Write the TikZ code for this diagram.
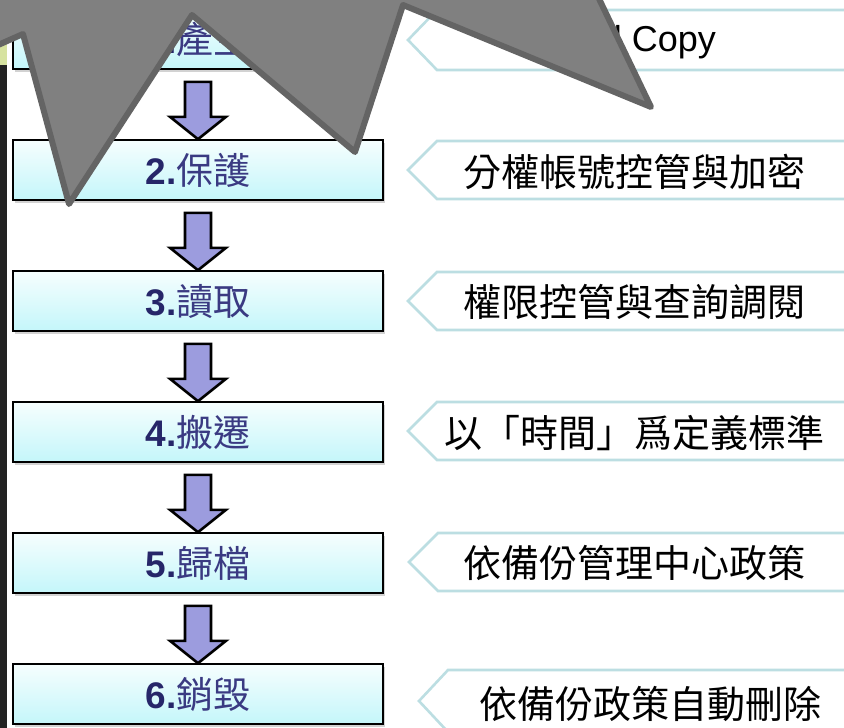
\documentclass[tikz,border=0pt]{standalone}
\usepackage{fontspec}
\setmainfont{Liberation Sans}
\newfontfamily\cjk{Noto Sans CJK TC}
\usetikzlibrary{calc,shadows}
\definecolor{navy}{RGB}{38,38,105}
\definecolor{navylight}{RGB}{58,58,130}
\definecolor{boxtop}{RGB}{246,254,254}
\definecolor{boxbot}{RGB}{196,246,250}
\definecolor{calloutline}{RGB}{188,222,226}
\definecolor{arrowfill}{RGB}{156,156,222}
\definecolor{polyfill}{RGB}{128,128,128}
\definecolor{polyline}{RGB}{100,100,100}
\definecolor{barcol}{RGB}{34,34,34}
\definecolor{stripcol}{RGB}{214,226,160}
\begin{document}
\begin{tikzpicture}[x=1pt,y=-1pt,
  stepbox/.style={draw=black, line width=1.6pt, minimum width=370pt, minimum height=60pt,
    inner sep=0pt, top color=boxtop, bottom color=boxbot,
    drop shadow={shadow xshift=2pt, shadow yshift=-3pt, opacity=0.35, fill=gray}},
  steptext/.style={font=\fontsize{37}{37}\selectfont\bfseries, text=navy},
  blockarrow/.style={draw=black, line width=2.6pt, fill=arrowfill, line join=miter},
  callout/.style={draw=calloutline, line width=2.6pt, fill=white, line join=miter},
  callouttext/.style={font=\cjk\fontsize{38}{38}\selectfont, text=black, inner sep=0pt},
  overlay poly/.style={fill=polyfill, draw=polyline, line width=6pt, line join=round}]
\useasboundingbox (0,0) rectangle (844,728);
\clip (0,0) rectangle (844,728);
\fill[white] (0,0) rectangle (844,728);

% left edge
\fill[stripcol] (0,44) rectangle (7,65);
\fill[barcol] (0,65) rectangle (7,728);

% step boxes
\newcommand{\cjkstep}[1]{{\cjk\fontsize{37}{37}\selectfont\mdseries\color{navylight}#1}}
\node[stepbox] (b1) at (198,39)  {\tikz[baseline]\node[steptext,inner sep=0pt,anchor=base]{1.\cjkstep{產生}};};
\node[stepbox] (b2) at (198,170) {\tikz[baseline]\node[steptext,inner sep=0pt,anchor=base]{2.\cjkstep{保護}};};
\node[stepbox] (b3) at (198,301) {\tikz[baseline]\node[steptext,inner sep=0pt,anchor=base]{3.\cjkstep{讀取}};};
\node[stepbox] (b4) at (198,432) {\tikz[baseline]\node[steptext,inner sep=0pt,anchor=base]{4.\cjkstep{搬遷}};};
\node[stepbox] (b5) at (198,563) {\tikz[baseline]\node[steptext,inner sep=0pt,anchor=base]{5.\cjkstep{歸檔}};};
\node[stepbox] (b6) at (198,694) {\tikz[baseline]\node[steptext,inner sep=0pt,anchor=base]{6.\cjkstep{銷毀}};};

% block arrows between boxes
\foreach \a/\b in {b1/b2,b2/b3,b3/b4,b4/b5,b5/b6}{
  \draw[blockarrow]
    ($(\a.south)+(-13,12)$) -- ($(\a.south)+(13,12)$) -- ($(\a.south)+(13,47)$)
    -- ($(\a.south)+(28,47)$) -- (\b.north) -- ($(\a.south)+(-28,47)$)
    -- ($(\a.south)+(-13,47)$) -- cycle;
}

% callouts
\foreach \top/\bot/\tip/\cor in {10/70/408/437, 141/199/408/437, 272/330/408/437, 402/460/408/437, 533/591/409/438, 670/732/419/448}{
  \draw[callout] (850,\top) -- (\cor,\top) -- (\tip,{(\top+\bot)/2}) -- (\cor,\bot) -- (850,\bot);
}
\node[font=\fontsize{36}{36}\selectfont, text=black, inner sep=0pt] (c1) at (640,42) {Full Copy};
\node[callouttext] (c2) at (634,172) {分權帳號控管與加密};
\node[callouttext] (c3) at (634,302) {權限控管與查詢調閱};
\node[callouttext] (c4) at (634,433) {以「時間」爲定義標準};
\node[callouttext] (c5) at (634,563) {依備份管理中心政策};
\node[callouttext] (c6) at (650,704) {依備份政策自動刪除};

% overlay polygon
\draw[overlay poly] (-20,53) -- (23,34) -- (69,204) -- (192,15) -- (355,152)
  -- (403,5) -- (651,107) -- (590,-20) -- (-20,-20) -- cycle;
\end{tikzpicture}
\end{document}
